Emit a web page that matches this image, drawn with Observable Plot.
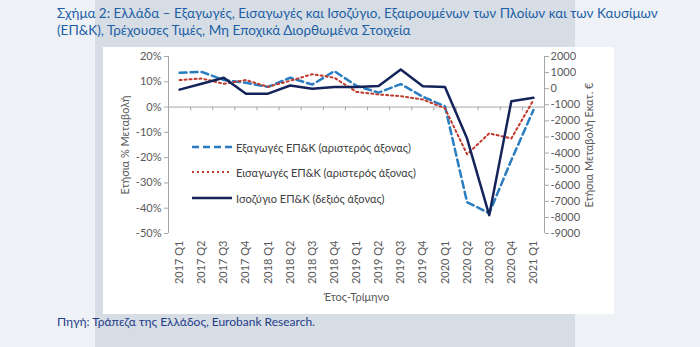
<!DOCTYPE html>
<html><head><meta charset="utf-8">
<script src="https://cdn.jsdelivr.net/npm/d3@7"></script>
<script src="https://cdn.jsdelivr.net/npm/@observablehq/plot@0.6"></script>
<style>
body{margin:0;width:700px;height:347px;background:#eef1f6;position:relative;overflow:hidden;font-family:Lato,"Noto Sans",sans-serif;}
#band{position:absolute;left:95px;top:0;width:480px;height:347px;background:#d6dde5;}
#title{position:absolute;left:57px;top:5px;color:#1d5fa6;font-size:13.5px;line-height:17px;white-space:nowrap;}
#chart{position:absolute;left:103px;top:47px;width:511px;height:267px;background:#fff;}
#caption{position:absolute;left:57px;top:314px;font-size:12px;color:#1f3c88;white-space:nowrap;}
.lg{position:absolute;left:192px;height:16px;font-size:11px;color:#404040;display:flex;align-items:center;white-space:nowrap;}
.lg svg{margin-right:4px;}
</style></head>
<body>
<div id="band"></div>
<div id="title">Σχήμα 2: Ελλάδα – Εξαγωγές, Εισαγωγές και Ισοζύγιο, Εξαιρουμένων των Πλοίων και των Καυσίμων<br>(ΕΠ&amp;Κ), Τρέχουσες Τιμές, Μη Εποχικά Διορθωμένα Στοιχεία</div>
<div id="chart"></div>
<div id="caption">Πηγή: Τράπεζα της Ελλάδος, Eurobank Research.</div>
<div id="legend"></div>
<script>
const quarters = ["2017 Q1","2017 Q2","2017 Q3","2017 Q4","2018 Q1","2018 Q2","2018 Q3","2018 Q4","2019 Q1","2019 Q2","2019 Q3","2019 Q4","2020 Q1","2020 Q2","2020 Q3","2020 Q4","2021 Q1"];
const exportsPct = [13.6,13.9,10.7,9.6,8.0,11.6,8.9,14.2,8.4,5.7,9.1,4.1,0.3,-37.6,-42.0,-21.0,-1.2];
const importsPct = [10.7,11.3,9.2,10.7,8.0,10.4,13.0,11.6,6.0,5.0,4.3,3.0,-0.5,-18.7,-10.4,-12.4,2.8];
const balanceEur = [-60,310,680,-310,-310,200,0,100,100,165,1190,150,100,-3100,-7860,-780,-570];
const leftTicks = [-50,-40,-30,-20,-10,0,10,20];
const rightTicks = [-9000,-8000,-7000,-6000,-5000,-4000,-3000,-2000,-1000,0,1000,2000];
const seriesNames = ["Εξαγωγές ΕΠ&Κ (αριστερός άξονας)","Εισαγωγές ΕΠ&Κ (αριστερός άξονας)","Ισοζύγιο ΕΠ&Κ (δεξιός άξονας)"];
const leftLabel = "Ετήσια % Μεταβολή";
const rightLabel = "Ετήσια Μεταβολή Εκατ. €";
const xLabel = "Έτος-Τρίμηνο";

const leftDom = [-50,20], rightDom = [-9000,2000];
const toLeft = d3.scaleLinear().domain(rightDom).range(leftDom);
const xDom = [-0.5, quarters.length - 0.5];
const axisGray = "#a6a6a6", textGray = "#595959";
const cExp = "#2a7dc0", cImp = "#c0392b", cBal = "#14245a";
const yMid = (leftDom[0] + leftDom[1]) / 2, xMid = (xDom[0] + xDom[1]) / 2;

const plot = Plot.plot({
  width: 511, height: 267,
  marginLeft: 65, marginRight: 70, marginTop: 9, marginBottom: 81,
  style: {fontFamily: "Lato, 'Noto Sans', sans-serif", fontSize: "11px", color: textGray, background: "white", overflow: "visible"},
  x: {type: "linear", domain: xDom, axis: null},
  y: {domain: leftDom, axis: null},
  marks: [
    Plot.ruleX([xDom[0]], {y1: leftDom[0], y2: leftDom[1], stroke: axisGray}),
    Plot.ruleX([xDom[1]], {y1: leftDom[0], y2: leftDom[1], stroke: axisGray}),
    Plot.ruleY([0], {stroke: axisGray}),
    Plot.ruleX(d3.range(xDom[0], xDom[1] + 0.5, 1), {y1: 0, y2: -1.5, stroke: axisGray}),
    Plot.axisY({anchor: "left", ticks: leftTicks, tickFormat: d => d + "%", tickSize: 4, tickPadding: 3, stroke: axisGray, fill: textGray, label: null}),
    Plot.axisY({anchor: "right", ticks: rightTicks.map(toLeft), tickFormat: p => String(Math.round(toLeft.invert(p))), tickSize: 4, tickPadding: 2, stroke: axisGray, fill: textGray, label: null}),
    Plot.axisX({anchor: "bottom", ticks: d3.range(quarters.length), tickFormat: i => quarters[i], tickRotate: -90, tickSize: 0, tickPadding: 7, fill: textGray, label: null}),
    Plot.text([xLabel], {x: xMid, y: leftDom[0], dy: 64, fill: textGray, fontSize: 11, textAnchor: "middle"}),
    Plot.text([leftLabel], {x: xDom[0], y: yMid, dx: -43, rotate: -90, fill: textGray, fontSize: 11, textAnchor: "middle"}),
    Plot.text([rightLabel], {x: xDom[1], y: yMid, dx: 45, rotate: -90, fill: textGray, fontSize: 11, textAnchor: "middle"}),
    Plot.line(exportsPct, {x: (d, i) => i, y: d => d, stroke: cExp, strokeWidth: 2.5, strokeDasharray: "7,4"}),
    Plot.line(importsPct, {x: (d, i) => i, y: d => d, stroke: cImp, strokeWidth: 2, strokeDasharray: "2,3"}),
    Plot.line(balanceEur, {x: (d, i) => i, y: d => toLeft(d), stroke: cBal, strokeWidth: 2.5})
  ]
});
document.getElementById("chart").appendChild(plot);

const legend = document.getElementById("legend");
const styles = [[cExp, "7,4", 2.5], [cImp, "2,3", 2], [cBal, null, 2.5]];
const rowsY = [139, 164, 190];
seriesNames.forEach((name, k) => {
  const [c, dash, w] = styles[k];
  const div = document.createElement("div");
  div.className = "lg";
  div.style.top = rowsY[k] + "px";
  div.innerHTML = `<svg width="40" height="6"><line x1="0" x2="40" y1="3" y2="3" stroke="${c}" stroke-width="${w}" ${dash ? `stroke-dasharray="${dash}"` : ""}/></svg>`;
  const span = document.createElement("span");
  span.textContent = name;
  div.appendChild(span);
  legend.appendChild(div);
});
</script>
</body></html>
